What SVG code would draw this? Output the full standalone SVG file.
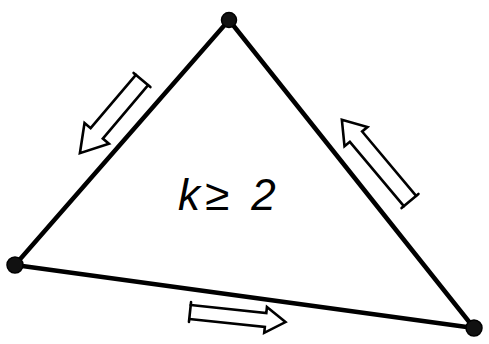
<svg xmlns="http://www.w3.org/2000/svg" width="489" height="344" viewBox="0 0 489 344">
<style>
.edge{stroke:#000;stroke-width:4.5;stroke-linecap:round;fill:none}
.vtx{fill:#111;stroke:#000;stroke-width:1.5}
.arr{fill:none;stroke:#000;stroke-width:2.6;stroke-linejoin:miter;stroke-linecap:round}
.lbl{font-family:"Liberation Sans",Arial,sans-serif;font-style:italic;font-size:44px;fill:#000}
</style>
<rect width="489" height="344" fill="#fff"/>
<g id="connectors">
<line class="edge" x1="229" y1="20" x2="15" y2="265"/>
<line class="edge" x1="229" y1="20" x2="474" y2="328"/>
<line class="edge" x1="15" y1="265" x2="474" y2="328"/>
</g>
<g id="arrow-left" transform="translate(142,80) rotate(130.3)">
<polyline class="arr" points="0,-8 70,-8 70,-16 96,0 70,16 70,8 0,8"/>
<line class="arr" x1="0" y1="-11" x2="0" y2="11"/>
</g>
<g id="arrow-right" transform="translate(410,201) rotate(-130)">
<polyline class="arr" points="0,-8 84,-8 84,-15 106,0 84,15 84,8 0,8"/>
<line class="arr" x1="0" y1="-11" x2="0" y2="11"/>
</g>
<g id="arrow-bottom" transform="translate(190,312) rotate(6)">
<polyline class="arr" points="0,-7 76,-7 76,-13 96,0 76,13 76,7 0,7"/>
<line class="arr" x1="0" y1="-10" x2="0" y2="10"/>
</g>
<g id="node-top"><circle class="vtx" cx="229" cy="20" r="7.5"/></g>
<g id="node-left"><circle class="vtx" cx="15" cy="265" r="8"/></g>
<g id="node-right"><circle class="vtx" cx="474" cy="328" r="8"/></g>
<g id="label"><text class="lbl" x="178" y="210">k<tspan dx="5">≥</tspan><tspan dx="22">2</tspan></text></g>
</svg>
